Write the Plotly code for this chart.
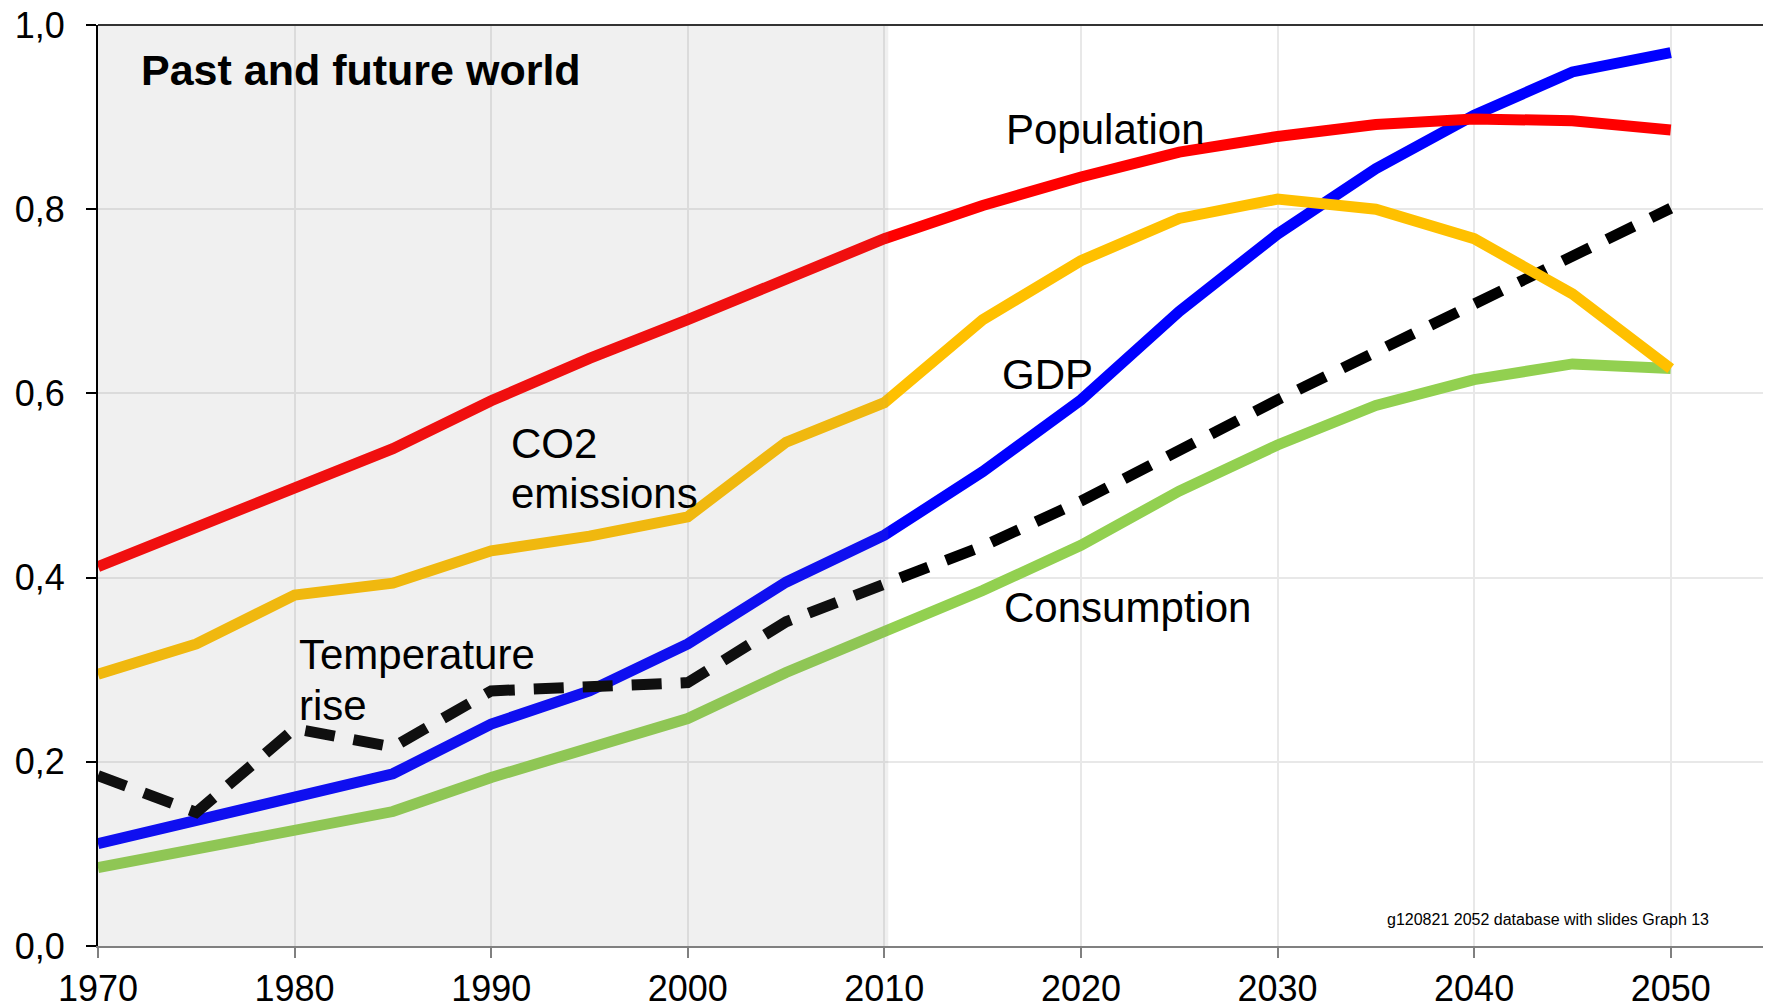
import plotly.graph_objects as go

years = [1970, 1975, 1980, 1985, 1990, 1995, 2000, 2005, 2010, 2015, 2020, 2025, 2030, 2035, 2040, 2045, 2050]

population = [0.412, 0.454, 0.496, 0.540, 0.592, 0.638, 0.680, 0.723, 0.768, 0.804, 0.835, 0.862, 0.879, 0.892, 0.898, 0.896, 0.886]
co2 = [0.295, 0.328, 0.381, 0.394, 0.429, 0.445, 0.466, 0.547, 0.590, 0.680, 0.744, 0.790, 0.811, 0.800, 0.768, 0.708, 0.627]
gdp = [0.111, 0.136, 0.163, 0.187, 0.241, 0.277, 0.328, 0.395, 0.446, 0.515, 0.593, 0.689, 0.773, 0.844, 0.902, 0.949, 0.970]
temperature = [0.185, 0.145, 0.236, 0.216, 0.277, 0.283, 0.286, 0.352, 0.392, 0.434, 0.483, 0.539, 0.593, 0.645, 0.697, 0.750, 0.801]
consumption = [0.085, 0.105, 0.125, 0.146, 0.183, 0.214, 0.247, 0.297, 0.341, 0.386, 0.435, 0.494, 0.544, 0.587, 0.615, 0.632, 0.627]

x_ticks = [1970, 1980, 1990, 2000, 2010, 2020, 2030, 2040, 2050]
x_tick_labels = ["1970", "1980", "1990", "2000", "2010", "2020", "2030", "2040", "2050"]
y_ticks = [0.0, 0.2, 0.4, 0.6, 0.8, 1.0]
y_tick_labels = ["0,0", "0,2", "0,4", "0,6", "0,8", "1,0"]

FONT = "Liberation Sans, Arial, sans-serif"

fig = go.Figure()

fig.add_trace(go.Scatter(x=years, y=consumption, mode="lines", name="Consumption",
                         line=dict(color="#92d050", width=11)))
fig.add_trace(go.Scatter(x=years, y=gdp, mode="lines", name="GDP",
                         line=dict(color="#0000ff", width=11)))
fig.add_trace(go.Scatter(x=years, y=temperature, mode="lines", name="Temperature rise",
                         line=dict(color="#000000", width=11, dash="30px,19px")))
fig.add_trace(go.Scatter(x=years, y=population, mode="lines", name="Population",
                         line=dict(color="#ff0000", width=11)))
fig.add_trace(go.Scatter(x=years, y=co2, mode="lines", name="CO2 emissions",
                         line=dict(color="#ffc000", width=11)))

# shaded past period (drawn over lines, semi-transparent)
fig.add_shape(type="rect", xref="x", yref="y", x0=1970, x1=2010.2, y0=0, y1=1,
              fillcolor="rgba(128,128,128,0.118)", line=dict(width=0), layer="above")
# top border (dark) and right border (gray)
fig.add_shape(type="line", xref="paper", yref="paper", x0=0, x1=1, y0=1, y1=1,
              line=dict(color="#333333", width=2), layer="above")
fig.add_shape(type="line", xref="paper", yref="paper", x0=1, x1=1, y0=0, y1=1,
              line=dict(color="#808080", width=2), layer="above")

labels = [
    (1972.1, 0.951, "<b>Past and future world</b>", 43),
    (2016.1, 0.887, "Population", 42),
    (1990.9, 0.546, "CO2", 42),
    (1990.9, 0.491, "emissions", 42),
    (2015.9, 0.620, "GDP", 42),
    (2016.0, 0.368, "Consumption", 42),
    (1980.1, 0.317, "Temperature", 42),
    (1980.1, 0.261, "rise", 42),
]
for lx, ly, txt, fs in labels:
    fig.add_annotation(x=lx, y=ly, xref="x", yref="y", text=txt, showarrow=False,
                       xanchor="left", yanchor="middle",
                       font=dict(family=FONT, size=fs, color="#000000"))

fig.add_annotation(x=2052.05, y=0.029, xref="x", yref="y",
                   text="g120821 2052 database with slides Graph 13", showarrow=False,
                   xanchor="right", yanchor="middle",
                   font=dict(family=FONT, size=16, color="#000000"))

fig.update_layout(
    width=1763, height=996,
    margin=dict(l=90, r=2, t=17, b=58, autoexpand=False),
    paper_bgcolor="#ffffff", plot_bgcolor="#ffffff",
    showlegend=False,
    font=dict(family=FONT, color="#000000"),
)
fig.update_xaxes(range=[1970, 2055], tickvals=x_ticks, ticktext=x_tick_labels,
                 showgrid=True, gridcolor="#e8e8e8", gridwidth=2,
                 showline=True, linecolor="#808080", linewidth=2, mirror=False,
                 ticks="outside", ticklen=10, tickwidth=2, tickcolor="#808080",
                 tickfont=dict(family=FONT, size=36, color="#000000"),
                 ticklabeloverflow="allow", automargin=False, zeroline=False)
fig.update_yaxes(range=[0, 1], tickvals=y_ticks, ticktext=y_tick_labels,
                 showgrid=True, gridcolor="#e8e8e8", gridwidth=2,
                 showline=True, linecolor="#000000", linewidth=2,
                 ticks="outside", ticklen=10, tickwidth=2, tickcolor="#000000",
                 tickfont=dict(family=FONT, size=36, color="#000000"),
                 ticklabelstandoff=14, ticklabeloverflow="allow", automargin=False,
                 zeroline=False)

fig.write_html("out.html")
